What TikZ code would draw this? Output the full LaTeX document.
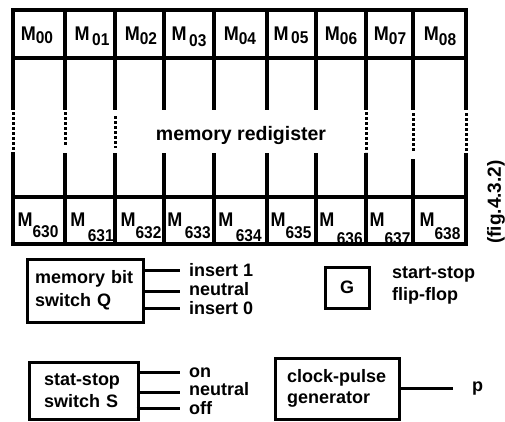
\documentclass[tikz,border=0pt]{standalone}
\usepackage{fontspec}
\setmainfont{Liberation Sans}
\usepackage{tikz}
\definecolor{ink}{HTML}{000000}

% cell label: M with a dropped index
\newcommand{\Mlab}[2]{\scalebox{1}[1.1]{M\raisebox{-#2pt}{\fontsize{15.5}{15}\selectfont #1}}}

\begin{document}
\begin{tikzpicture}[x=1pt,y=-1pt,
  grid/.style={ink, line width=3.5pt, line cap=rect},
  dotline/.style={ink, line width=3pt, dash pattern=on 2.5pt off 2.5pt},
  box/.style={draw=ink, line width=3pt, inner sep=0pt, align=left},
  lead/.style={ink, line width=3pt},
  txt/.style={font=\fontsize{18}{22}\selectfont\bfseries, inner sep=0pt, align=left}]

\useasboundingbox (0,0) rectangle (505,421);

% =========================
% MEMORY REGISTER GRID
% =========================
\draw[grid] (13,10) -- (466,10);
\draw[grid] (13,58) -- (466,58);
\draw[grid] (13,197) -- (466,197);
\draw[grid] (13,244) -- (466,244);

% upper column lines
\foreach \x in {13,65,115,164,214,267,316,366,413,466} {
    \draw[grid] (\x,10) -- (\x,108);
}

% dotted breaks
\foreach \x/\a/\b in {13/112/152,65/112/145,115/116/148,366/112/152,413/113/152,466/113/153} {
    \draw[dotline] (\x,\a) -- (\x,\b);
}

% lower column lines
\foreach \x/\a in {13/154,65/155,115/155,164/155,214/155,267/155,316/155,366/155,413/161,466/155} {
    \draw[grid] (\x,\a) -- (\x,244);
}

% top row labels
\foreach \x/\s/\d [count=\i] in {37/00/3,92/{\,01}/5,141/02/4,189/{\,03}/6,240/04/4,291/{\,05}/3,341/06/4,390/07/4,440/08/5} {
    \node[txt, anchor=base] (top\i) at (\x,40) {\Mlab{\s}{\d}};
}

% bottom row labels
\foreach \x/\s/\d [count=\i] in {38/630/10,92/{\,631}/14,141/632/11,189/{\,633}/11,240/{\,634}/14,291/635/11,341/{\,636}/17,390/637/17,440/638/12} {
    \node[txt, anchor=base] (bot\i) at (\x,226) {\Mlab{\s}{\d}};
}

\node[txt, font=\fontsize{19.5}{22}\selectfont\bfseries] (reg) at (241,135) {memory redigister};

\node[txt, rotate=90, font=\fontsize{19}{22}\selectfont\bfseries] (fig) at (496,202) {(fig.4.3.2)};

% =========================
% MEMORY BIT SWITCH Q
% =========================
\node[box, minimum width=116pt, minimum height=63pt, text width=100pt,
      font=\fontsize{18}{23}\selectfont\bfseries] (qsw) at (85,290.5)
{memory bit\\switch Q};

\node[txt, anchor=base west] (qone) at (189,276) {insert 1};
\node[txt, anchor=base west] (qneu) at (189,295) {neutral};
\node[txt, anchor=base west] (qzero) at (189,314) {insert 0};

\draw[lead] ([yshift=6pt]qsw.east |- qone.base) -- ([xshift=-9pt,yshift=6pt]qone.base west);
\draw[lead] ([yshift=4pt]qsw.east |- qneu.base) -- ([xshift=-9pt,yshift=4pt]qneu.base west);
\draw[lead] ([yshift=6pt]qsw.east |- qzero.base) -- ([xshift=-9pt,yshift=6pt]qzero.base west);

% =========================
% START-STOP FLIP-FLOP G
% =========================
\node[box, minimum width=44pt, minimum height=41pt, txt] (gff) at (347,287.5) {G};
\node[txt, anchor=west] (gname) at (392,285) {start-stop\\flip-flop};

% =========================
% STAT-STOP SWITCH S
% =========================
\node[box, minimum width=109pt, minimum height=57pt, text width=79pt,
      font=\fontsize{18}{22}\selectfont\bfseries] (ssw) at (83.5,390.5)
{stat-stop\\switch S};

\node[txt, anchor=base west] (son) at (189,377) {on};
\node[txt, anchor=base west] (sneu) at (189,395) {neutral};
\node[txt, anchor=base west] (soff) at (189,414) {off};

\draw[lead] ([yshift=5pt]ssw.east |- son.base) -- ([xshift=-9pt,yshift=5pt]son.base west);
\draw[lead] ([yshift=3pt]ssw.east |- sneu.base) -- ([xshift=-9pt,yshift=3pt]sneu.base west);
\draw[lead] ([xshift=-3pt,yshift=6pt]ssw.east |- soff.base) -- ([xshift=-9pt,yshift=6pt]soff.base west);

% =========================
% CLOCK-PULSE GENERATOR
% =========================
\node[box, minimum width=124pt, minimum height=61pt, text width=100pt,
      font=\fontsize{18}{21}\selectfont\bfseries] (clk) at (337,388.5)
{clock-pulse\\generator};

\node[txt, anchor=base west] (pout) at (472,391) {p};
\draw[lead] (clk.east) -- ([xshift=-19pt]clk.east -| pout.west);

\end{tikzpicture}
\end{document}
